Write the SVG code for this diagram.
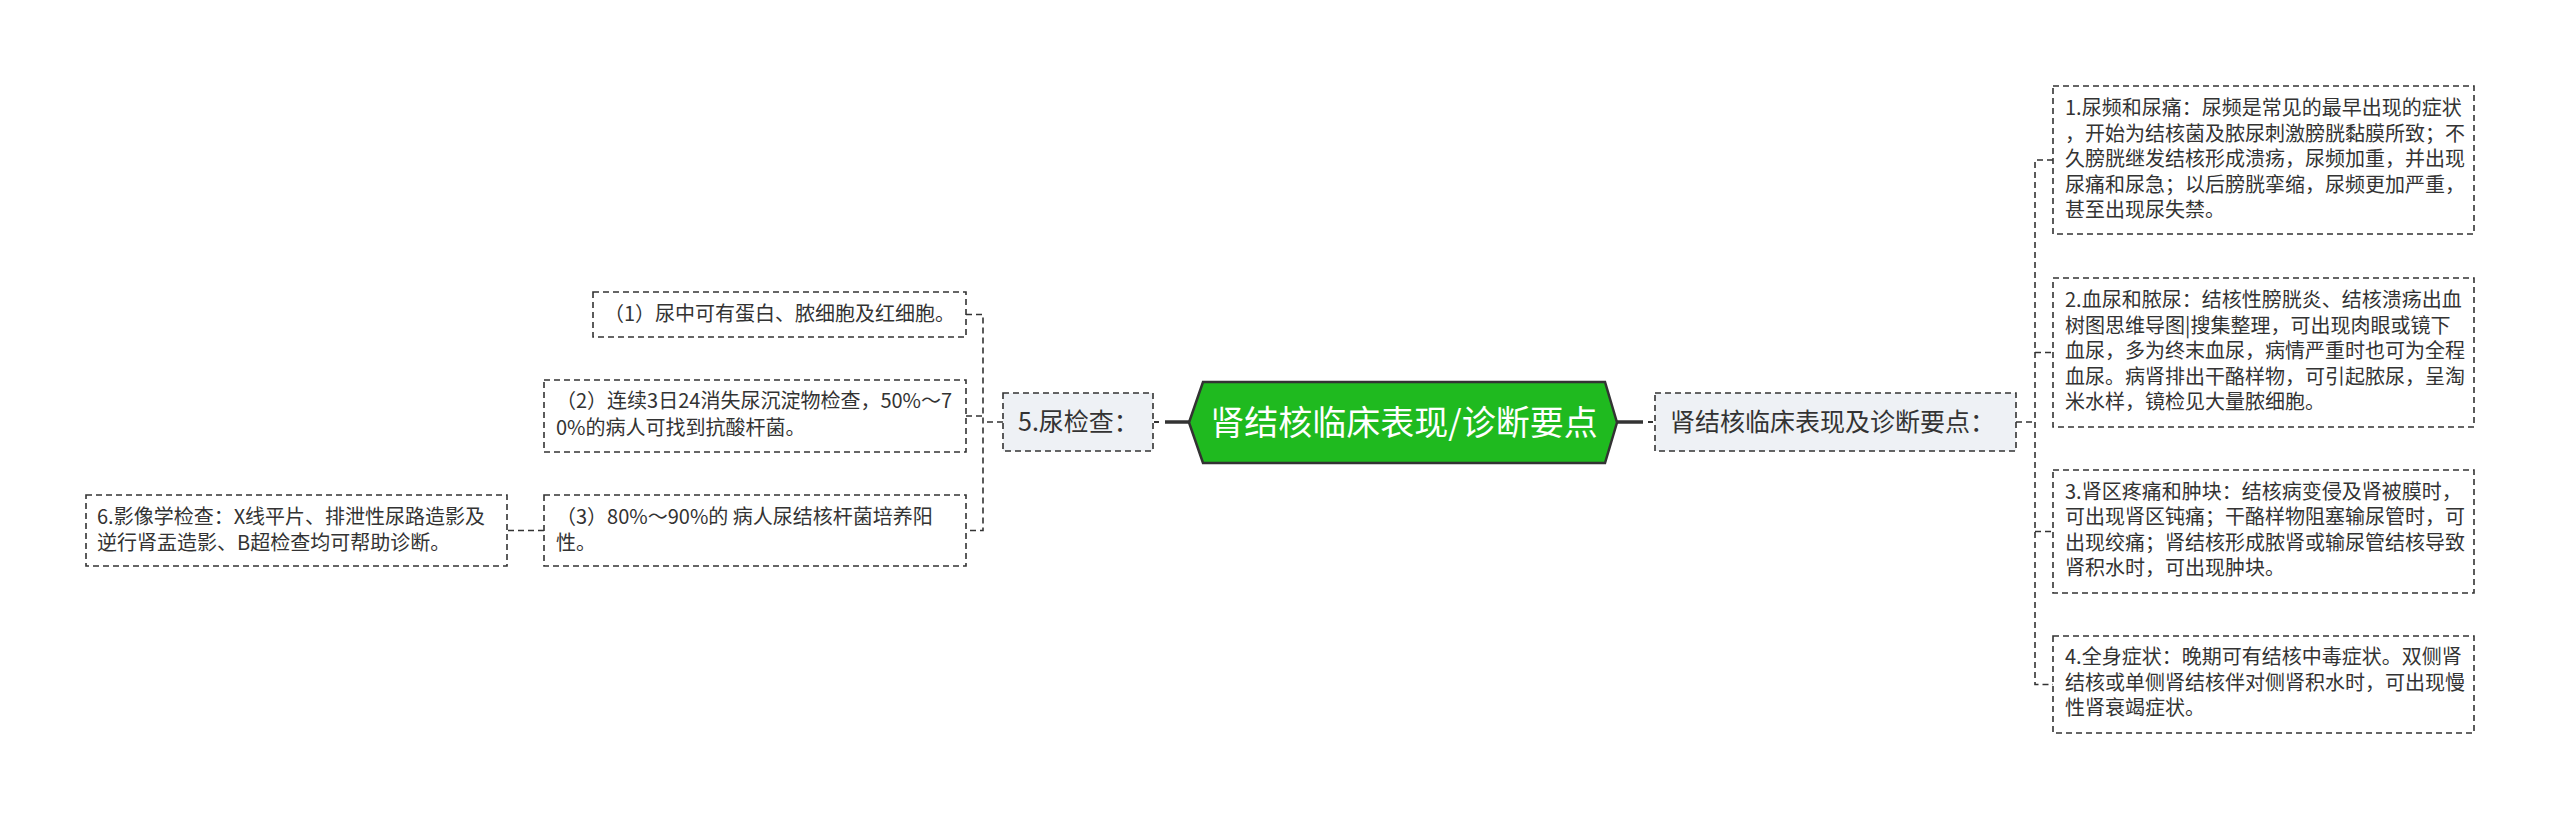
<svg xmlns="http://www.w3.org/2000/svg" width="2560" height="819" viewBox="0 0 2560 819">
<style>
text{font-family:"Noto Sans CJK SC","Noto Sans",sans-serif;fill:#333333}
.t{font-size:20px}
.mid{font-size:25px}
.root{font-size:34px;fill:#ffffff;text-anchor:middle}
.box{fill:#ffffff;stroke:#333333;stroke-width:1.6;stroke-dasharray:6 4}
.sub{fill:#eef1f5;stroke:#333333;stroke-width:1.6;stroke-dasharray:6 4}
.c{fill:none;stroke:#333333;stroke-width:1.6;stroke-dasharray:6 4}
.s{fill:none;stroke:#333333;stroke-width:3.5}
</style>
<rect width="2560" height="819" fill="#ffffff"/>
<g id="connectors">
<path class="s" d="M1165,422 H1189"/>
<path class="c" style="stroke-dasharray:none;stroke-width:2" d="M1154,422 H1159"/>
<path class="s" d="M1617,422 H1643"/>
<path class="c" style="stroke-dasharray:none;stroke-width:2" d="M1648,422 H1653"/>
<path class="c" d="M2016,422 H2035"/>
<path class="c" d="M2053,160 H2035 V684.5 H2053"/>
<path class="c" d="M2035,352.5 H2053"/>
<path class="c" d="M2035,531.5 H2053"/>
<path class="c" d="M1003,422 H983"/>
<path class="c" d="M966,314.5 H983 V530.5 H966"/>
<path class="c" d="M966,416 H983"/>
<path class="c" d="M544,530.5 H507"/>
</g>
<g id="root">
<polygon points="1189,422.5 1203,382 1605,382 1617,422.5 1605,463 1203,463" fill="#1fba1f" stroke="#333333" stroke-width="2.5"/>
<text class="root" x="1404" y="435">肾结核临床表现/诊断要点</text>
</g>
<g id="node-right">
<rect class="sub" x="1655" y="393" width="361" height="58"/>
<text class="mid" x="1670" y="431">肾结核临床表现及诊断要点：</text>
</g>
<g id="node-r1">
<rect class="box" x="2053" y="86" width="421" height="148"/>
<text class="t" x="2065" y="115">1.尿频和尿痛：尿频是常见的最早出现的症状</text>
<text class="t" x="2065" y="140.5">，开始为结核菌及脓尿刺激膀胱黏膜所致；不</text>
<text class="t" x="2065" y="166">久膀胱继发结核形成溃疡，尿频加重，并出现</text>
<text class="t" x="2065" y="191.5">尿痛和尿急；以后膀胱挛缩，尿频更加严重，</text>
<text class="t" x="2065" y="217">甚至出现尿失禁。</text>
</g>
<g id="node-r2">
<rect class="box" x="2053" y="278" width="421" height="149"/>
<text class="t" x="2065" y="307">2.血尿和脓尿：结核性膀胱炎、结核溃疡出血</text>
<text class="t" x="2065" y="332.5">树图思维导图|搜集整理，可出现肉眼或镜下</text>
<text class="t" x="2065" y="358">血尿，多为终末血尿，病情严重时也可为全程</text>
<text class="t" x="2065" y="383.5">血尿。病肾排出干酪样物，可引起脓尿，呈淘</text>
<text class="t" x="2065" y="409">米水样，镜检见大量脓细胞。</text>
</g>
<g id="node-r3">
<rect class="box" x="2053" y="470" width="421" height="123"/>
<text class="t" x="2065" y="498.5">3.肾区疼痛和肿块：结核病变侵及肾被膜时，</text>
<text class="t" x="2065" y="524">可出现肾区钝痛；干酪样物阻塞输尿管时，可</text>
<text class="t" x="2065" y="549.5">出现绞痛；肾结核形成脓肾或输尿管结核导致</text>
<text class="t" x="2065" y="575">肾积水时，可出现肿块。</text>
</g>
<g id="node-r4">
<rect class="box" x="2053" y="636" width="421" height="97"/>
<text class="t" x="2065" y="664">4.全身症状：晚期可有结核中毒症状。双侧肾</text>
<text class="t" x="2065" y="689.5">结核或单侧肾结核伴对侧肾积水时，可出现慢</text>
<text class="t" x="2065" y="715">性肾衰竭症状。</text>
</g>
<g id="node-left">
<rect class="sub" x="1003" y="393" width="150" height="58"/>
<text class="mid" x="1018" y="431">5.尿检查：</text>
</g>
<g id="node-l1">
<rect class="box" x="593" y="292" width="373" height="45"/>
<text class="t" x="604" y="321">（1）尿中可有蛋白、脓细胞及红细胞。</text>
</g>
<g id="node-l2">
<rect class="box" x="544" y="380" width="422" height="72"/>
<text class="t" x="556" y="408">（2）连续3日24消失尿沉淀物检查，50%～7</text>
<text class="t" x="556" y="434.5">0%的病人可找到抗酸杆菌。</text>
</g>
<g id="node-l3">
<rect class="box" x="544" y="495" width="422" height="71"/>
<text class="t" x="556" y="524">（3）80%～90%的 病人尿结核杆菌培养阳</text>
<text class="t" x="556" y="550">性。</text>
</g>
<g id="node-l4">
<rect class="box" x="86" y="495" width="421" height="71"/>
<text class="t" x="97" y="524">6.影像学检查：X线平片、排泄性尿路造影及</text>
<text class="t" x="97" y="549.5">逆行肾盂造影、B超检查均可帮助诊断。</text>
</g>
</svg>
